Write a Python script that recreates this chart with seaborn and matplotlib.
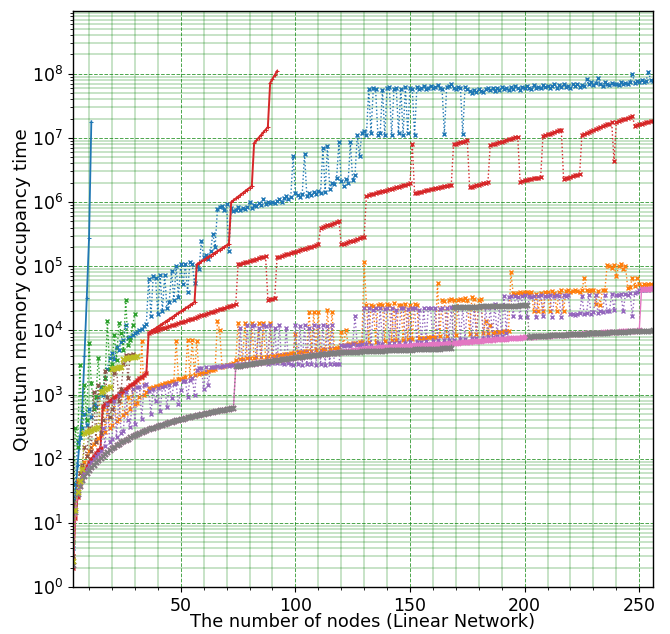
import numpy as np
import matplotlib
matplotlib.use("Agg")
import matplotlib.pyplot as plt
from matplotlib.ticker import MultipleLocator, LogLocator
import seaborn as sns

# ---------------- data ----------------
# x = number of nodes; each series starts at the given node and runs consecutively
blue_solid_start = 3
blue_solid = [5, 25, 80, 200, 550, 4000, 32000, 280000, 18000000]

blue_dot_start = 3
blue_dot = [4, 40, 180, 220, 300, 500, 340, 600, 450, 700, 650, 900, 1300, 1000, 1800, 2500,
            3700, 4500, 3600, 5600, 5000, 6500, 7200, 12000, 7500, 8000, 8500, 9000, 9500, 10000,
            10500, 11500, 12500,
            63000, 17000, 70000, 66000, 18000, 72000, 20000, 74000, 22000, 28000, 85000, 30000,
            100000, 33000, 107000, 52000, 107000, 40000, 115000, 110000, 55000,
            100000, 90000, 250000, 140000, 150000, 130000, 170000, 320000, 200000, 780000, 850000,
            870000, 750000, 920000, 170000,
            800000, 720000, 760000, 830000, 740000, 800000, 770000, 850000, 1000000, 820000, 900000,
            870000, 950000, 900000, 1100000, 930000, 1000000, 960000, 1000000, 980000, 1050000,
            1100000, 1000000, 1150000, 1250000, 1100000, 1200000,
            5300000, 1400000, 1300000, 1200000, 1350000, 5600000, 1250000, 1400000, 1300000, 1450000,
            1350000, 1500000, 1400000, 7000000, 1450000, 7500000, 1600000, 2000000, 1900000, 2400000,
            8500000, 2100000, 1800000, 2300000, 2000000, 8500000, 2200000, 2600000, 11000000,
            5300000, 12000000, 13000000,
            11000000, 58000000, 12000000, 60000000, 57000000, 11000000, 12000000, 56000000, 11000000,
            59000000, 62000000, 11000000, 57000000, 60000000, 12000000, 58000000, 11000000, 63000000,
            12000000, 60000000, 58000000, 11000000, 62000000, 57000000, 60000000, 64000000, 58000000,
            61000000, 65000000, 59000000, 62000000, 66000000, 60000000, 57000000, 11500000, 62000000,
            65000000, 70000000, 60000000, 58000000, 63000000, 60000000, 11500000, 62000000, 58000000,
            5.3e7, 5.0e7, 5.6e7, 5.2e7, 5.8e7, 5.4e7, 5.1e7, 5.7e7, 6.0e7, 5.5e7, 5.9e7, 5.3e7, 6.1e7,
            5.6e7, 6.3e7, 5.8e7, 6.0e7, 5.5e7, 6.2e7, 5.7e7, 6.4e7, 6.0e7, 5.6e7, 6.3e7, 5.9e7, 6.5e7,
            6.1e7, 5.8e7, 6.6e7, 6.0e7, 6.3e7, 5.9e7, 6.7e7, 6.2e7, 6.5e7, 6.0e7, 6.4e7, 6.8e7, 6.1e7,
            6.6e7, 6.3e7, 6.9e7, 6.2e7, 6.5e7, 6.1e7, 6.8e7, 6.4e7, 7.0e7, 6.3e7, 6.6e7, 6.5e7, 8.2e7,
            6.8e7, 7.4e7, 6.6e7, 7.2e7, 8.5e7, 7.0e7, 6.5e7, 7.3e7, 6.9e7, 6.6e7, 7.1e7, 6.8e7, 7.0e7,
            6.7e7, 7.3e7, 6.9e7, 7.1e7, 7.0e7, 7.4e7, 1.0e8, 7.2e7, 7.6e7, 7.3e7, 8.0e7, 7.5e7, 7.8e7,
            1.07e8, 8.0e7, 7.8e7]

orange_start = 3
orange = [3, 20, 45, 60, 75, 90, 110, 130, 150, 170, 190, 210, 230, 600, 260, 700, 300, 330, 900,
          380, 420, 1000, 480, 520, 900, 600, 1200, 700, 750, 900, 6800, 1000, 1100,
          1250, 1280, 1310, 1350, 1380, 1420, 1450, 1490, 1520, 1560, 1600, 1640, 6800, 1720, 1760,
          1800, 1850, 7000, 1950, 7000, 2000, 6800, 2100, 2150, 2200, 2250, 2300, 2400, 2450, 2500,
          14000, 10000, 2700, 2750, 2850, 2900, 3000, 3100,
          3500, 13000, 3550, 3600, 13000, 3650, 3700, 13000, 3750, 3800, 13000, 3850, 13000, 3900,
          3950, 13000, 4000, 4050, 4100, 4150, 4200, 4250, 4300, 4350, 4400, 4450, 8700, 4550, 4600,
          4650, 4700, 4750, 19000, 4850, 19000, 4950, 19000, 5000, 5050, 5100, 21000, 5200, 19000,
          5300, 5400, 5500,
          9500, 6000, 10000, 6200, 6100, 6300, 6400, 6200, 6500, 6600, 115000, 25000, 6500, 25000,
          24000, 6700, 25000, 26000, 25000, 6800, 26000, 25000, 7000, 27000, 7000, 25000, 25000,
          7200, 26000, 7300, 25000, 7400, 26000, 25000, 7500, 7600, 7600, 7700, 7800, 7900, 7900,
          8000, 54000, 8100, 30000, 29000, 8300, 30000, 31000, 30000, 8500, 30000, 31000, 30000,
          32000, 30000, 8700, 33000, 31000, 8800, 30000, 31000, 9000, 14000, 9100, 12000, 9200,
          9300, 9400, 9500,
          9600, 9700, 9800, 9900, 80000, 38000, 37000, 38000, 39000, 38000, 39000, 40000, 38000,
          39000, 20000, 37000, 20000, 38000, 20000, 39000, 40000, 20000, 41000, 38000, 20000, 40000,
          42000, 20000, 41000, 42000, 40000, 41000, 43000, 41000, 40000, 42000, 66000, 42000, 41000,
          43000, 42000, 26000, 41000, 25000, 43000, 42000, 105000, 100000, 95000, 105000, 70000,
          100000, 110000, 90000, 100000, 45000, 48000, 66000, 50000, 66000, 52000, 50000, 52000,
          51000, 53000, 52000, 51000]

green_start = 3
green = [5, 300, 150, 2900, 250, 1400, 400, 6300, 1500, 600, 900, 3700, 1100, 1300, 1800, 14000,
         2500, 3000, 8500, 3500, 13000, 9000, 5000, 30000, 6000, 7000, 12000, 18000]

red_solid_start = 3
red_solid = [2, 12, 25, 38, 50, 62, 75, 88, 100, 110, 122, 135, 148,
             660, 702, 747, 795, 846, 900, 958, 1019, 1084, 1154, 1228, 1306, 1390, 1479, 1574,
             1675, 1782, 1896, 2018, 2147,
             9100, 9620, 10170, 10750, 11360, 12010, 12690, 13410, 14180, 14990, 15840, 16740,
             17700, 18710, 19770, 20900, 22090, 23350, 24680, 26090, 27580,
             107000, 112800, 118900, 125300, 132100, 139200, 146700, 154600, 163000, 171800,
             181000, 190800, 201100, 212000, 223400,
             1.00e6, 1.066e6, 1.137e6, 1.212e6, 1.292e6, 1.377e6, 1.468e6, 1.565e6, 1.668e6, 1.778e6,
             8.3e6, 9.14e6, 1.006e7, 1.108e7, 1.22e7, 1.343e7, 1.479e7,
             7.2e7, 8.3e7, 9.5e7, 1.1e8]

red_dot_start = 3
red_dot = [2, 12, 25, 38, 50, 62, 75, 88, 100, 110, 122, 135, 148,
           660, 702, 747, 795, 846, 900, 958, 1019, 1084, 1154, 1228, 1306, 1390, 1479, 1574,
           1675, 1782, 1896, 2018, 2147,
           9100, 9350, 9610, 9880, 10150, 10430, 10720, 11020, 11320, 11640, 11960, 12290, 12630,
           12980, 13340, 13710, 14090, 14480, 14880, 15290, 15720, 16150, 16600, 17060, 17530,
           18020, 18520, 19030, 19560, 20100, 20650, 21230, 21810, 22420, 23040, 23680, 24330,
           25000, 25700,
           107000, 109700, 112400, 115200, 118100, 121100, 124100, 127200, 130400, 133600, 137000,
           140400, 143900,
           30000, 30500, 31000, 31500,
           138000, 141600, 145200, 149000, 152900, 156800, 160900, 165100, 169300, 173700, 178200,
           182800, 187600, 192400, 197400, 202500, 207800, 213200, 218700,
           389000, 402700, 416800, 431400, 446500, 462100, 478300, 495000, 512400,
           219000, 225100, 231400, 237900, 244600, 251400, 258500, 265700, 273100, 280800, 288600,
           1.259e6, 1.288e6, 1.318e6, 1.349e6, 1.380e6, 1.412e6, 1.445e6, 1.479e6, 1.513e6, 1.549e6,
           1.585e6, 1.622e6, 1.660e6, 1.698e6, 1.738e6, 1.778e6, 1.820e6, 1.862e6, 1.905e6, 1.950e6,
           8.0e6,
           1.380e6, 1.406e6, 1.433e6, 1.460e6, 1.488e6, 1.517e6, 1.546e6, 1.575e6, 1.605e6, 1.636e6,
           1.667e6, 1.699e6, 1.731e6, 1.764e6, 1.798e6, 1.832e6, 1.862e6,
           7.94e6, 8.12e6, 8.31e6, 8.51e6, 8.71e6, 8.91e6, 9.12e6,
           1.70e6, 1.74e6, 1.78e6, 1.82e6, 1.86e6, 1.90e6, 1.95e6, 1.99e6, 2.04e6,
           7.76e6, 7.95e6, 8.15e6, 8.36e6, 8.57e6, 8.78e6, 9.00e6, 9.23e6, 9.46e6, 9.70e6, 9.94e6,
           1.019e7, 1.045e7,
           2.09e6, 2.13e6, 2.17e6, 2.21e6, 2.25e6, 2.29e6, 2.33e6, 2.37e6, 2.41e6, 2.45e6,
           1.07e7, 1.10e7, 1.13e7, 1.16e7, 1.19e7, 1.23e7, 1.27e7, 1.31e7, 1.35e7,
           2.29e6, 2.35e6, 2.41e6, 2.48e6, 2.54e6, 2.61e6, 2.68e6, 2.75e6,
           1.12e7, 1.16e7, 1.20e7, 1.24e7, 1.28e7, 1.32e7, 1.37e7, 1.41e7, 1.46e7, 1.51e7, 1.56e7,
           1.62e7, 1.67e7, 1.74e7,
           4.3e6,
           1.78e7, 1.83e7, 1.88e7, 1.94e7, 2.00e7, 2.06e7, 2.12e7, 2.19e7,
           1.55e7, 1.58e7, 1.62e7, 1.66e7, 1.70e7, 1.74e7, 1.78e7, 1.82e7, 1.86e7]

purple_start = 3
purple = [2.5, 17, 32, 45, 55, 62, 70, 80, 90, 100, 110, 120, 130,
          300, 160, 700, 180, 200, 800, 220, 1000, 250, 270, 1100, 400, 310, 1200, 350, 1300, 1300,
          420, 1400, 1450,
          1150, 500, 1200, 780, 1250, 550, 1300, 1350, 650, 1400, 870, 1450, 1500, 700, 1180, 1600,
          1650, 900, 1700, 1800, 1000, 2400, 2570, 2600, 1200, 2650, 1420, 2700, 2650, 2700, 2750,
          2700, 2800, 2750, 2850, 2800, 2900, 2850,
          2900, 3000, 11000, 2950, 3000, 12000, 3050, 11500, 12000, 3000, 11000, 3100, 12000, 11500,
          3000, 12000, 3100, 11000, 3050, 12000, 3100, 3000, 11000, 3100, 3000, 2900, 12000, 2950,
          11500, 2900, 12000, 3000, 11000, 2950, 12000, 2900, 11500, 3000, 12000, 2900, 11500, 2950,
          12000, 3000, 2950, 3000,
          6000, 5800, 5900, 6000, 5800, 6100, 16600, 6000, 5900, 6100, 22000, 6200, 22000, 6000,
          21000, 22000, 6300, 22000, 6200, 21500, 22000, 6400, 22000, 6300, 21000, 6500, 22000,
          22000, 6400, 21500, 6600, 22000, 22000, 6500, 21000, 6700, 22000, 6800, 22500, 22000,
          6900, 22000, 7000, 21500, 22000, 7100, 22500, 7000, 23000, 7200, 23000, 23500, 7300,
          23000, 7400, 23500, 23000, 7500, 23500, 7600, 23000, 24000, 7700, 23500, 7800, 24000,
          8000, 26000, 8200, 24000,
          8300, 34000, 9000, 33000, 34000, 17000, 34000, 33000, 16000, 34000, 35000, 16000, 34000,
          33000, 34000, 16000, 34000, 35000, 17000, 34000, 34000, 35000, 16000, 34000, 35000, 34000,
          16000, 35000, 34000, 35000, 18000, 18000, 17500, 18000, 18500, 34000, 18000, 18500, 35000,
          18000, 19000, 35000, 18500, 20000, 19500, 36000, 20000, 20000, 37000, 21000, 36000, 36000,
          37000, 20000, 37000, 36000, 38000, 17000, 38000, 40000, 42000, 43000, 42000, 44000, 43000,
          44000, 45000]

brown_start = 3
brown = [3, 20, 40, 60, 80, 150, 110, 300, 130, 1100, 180, 1400, 250, 400, 2300, 930, 450, 600,
         2200, 2600, 800, 1200, 3000, 4200, 1800, 4200, 4300]

gray_start = 3
gray = [2.2, 15, 28, 38, 46, 53, 60, 66, 73, 80, 88, 96, 104, 112, 120, 128, 136, 145, 153, 162,
        170, 179, 188, 197, 206, 215, 224, 233, 242, 251, 260, 269, 278, 287, 296, 305, 314, 323,
        332, 341, 350, 359, 368, 377, 386, 395, 404, 413, 422, 431, 440, 449, 458, 467, 476, 485,
        494, 503, 512, 521, 530, 539, 548, 557, 566, 575, 584, 593, 602, 611, 625,
        2750, 2790, 2830, 2870, 2910, 2950, 2990, 3030, 3070, 3110, 3150, 3190, 3230, 3270, 3310,
        3350, 3390, 3430, 3470, 3510, 3550, 3590, 3630, 3670, 3710, 3750, 3790, 3830, 3870, 3910,
        3950, 3990, 4030, 4070, 4110, 4150, 4190, 4230, 4270, 4310, 4350, 4390, 4430, 4470, 4510,
        4550,
        4560, 4575, 4590, 4605, 4620, 4635, 4650, 4665, 4680, 4695, 4710, 4725, 4740, 4755, 4770,
        4785, 4800, 4815, 4830, 4845, 4860, 4875, 4890, 4905, 4920, 4935, 4950, 4965, 4980, 4995,
        5010, 5025, 5040, 5055, 5070, 5085, 5100, 5115, 5130, 5145, 5160, 5175, 5190, 5205, 5220,
        5235, 5250, 5265, 5280,
        22800, 22900, 23000, 23000, 23100, 23200, 23200, 23300, 23400, 23400, 23500, 23500, 23600,
        23600, 23700, 23800, 23800, 23900, 23900, 24000, 24000, 24100, 24100, 24200, 24200, 24300,
        24300, 24400, 24400, 24500, 24500, 24600, 24600,
        8000, 8040, 8080, 8110, 8150, 8190, 8220, 8260, 8300, 8330, 8370, 8410, 8440, 8480, 8520,
        8550, 8590, 8630, 8660, 8700, 8740, 8770, 8810, 8850, 8880, 8920, 8960, 8990, 9030, 9070,
        9100, 9140, 9180, 9210, 9250, 9290, 9320, 9360, 9400, 9430, 9470, 9510, 9540, 9580, 9620,
        9650, 9690, 9730, 9760, 9800, 9840, 9870, 9910, 9950, 9980]

# pink follows the gray curve up to node 118, then its own values from node 119
pink_start = 3
pink_own = [4550, 4600, 4660, 4720, 4780, 4840, 4900, 4960, 5020, 5080, 5140, 5200, 5250,
            5280, 5310, 5340, 5360, 5390, 5420, 5450, 5480, 5500, 5530, 5560, 5590, 5620, 5640,
            5670, 5700, 5730, 5760, 5780, 5810, 5840, 5870, 5900, 5920, 5950, 5980, 6010, 6040,
            6060, 6090, 6120, 6150, 6180, 6200, 6230, 6260, 6290,
            6350, 6400, 6450, 6500, 6540, 6590, 6640, 6690, 6740, 6780, 6830, 6880, 6930, 6980,
            7020, 7070, 7120, 7170, 7220, 7260, 7310, 7360, 7410, 7460, 7500, 7550, 7600, 7650,
            7700, 7740, 7790, 7840, 7890,
            7930, 7970, 8010, 8060, 8100, 8140, 8180, 8230, 8270, 8310, 8350, 8400, 8440, 8480,
            8520, 8570, 8610, 8650, 8690, 8740, 8780, 8820, 8860, 8910, 8950, 8990, 9030, 9080,
            9120, 9160, 9200, 9250, 9290, 9330, 9370, 9420, 9460, 9500, 9540, 9590, 9630, 9670,
            9710, 9760, 9800, 9840, 9880, 9930, 9970,
            44000, 44200, 44400, 44600, 44800, 45000]
pink = gray[:116] + pink_own

olive_start = 3
olive = [2.5, 16, 30, 45, 70, 250, 260, 270, 280, 290, 300, 310, 1100, 1150, 1200, 1250, 1300,
         2500, 2550, 2600, 2650, 2700, 3600, 3700, 3750, 3800, 3850, 3900, 3950]

x_label = "The number of nodes (Linear Network)"
y_label = "Quantum memory occupancy time"

# ---------------- drawing ----------------
plt.rcParams["font.family"] = ["DejaVu Sans"]
plt.rcParams["font.size"] = 12.5

fig = plt.figure(figsize=(6.7, 6.34), dpi=100)
ax = fig.add_axes([73 / 670, 1 - 587 / 634, 580 / 670, 576 / 634])


def draw(vals, start, color, **kw):
    xs = np.arange(start, start + len(vals))
    sns.lineplot(x=xs, y=np.asarray(vals, dtype=float), ax=ax, errorbar=None,
                 estimator=None, sort=False, color=color,
                 markeredgecolor=color, markerfacecolor=color, **kw)


dot = dict(linestyle=":", linewidth=1.0, marker="x", markersize=3.5, markeredgewidth=1.0)
heavy = dict(linestyle=":", linewidth=1.0, marker="x", markersize=3.6, markeredgewidth=1.4)

draw(blue_solid, blue_solid_start, "#1f77b4", linestyle="-", linewidth=1.3,
     marker="+", markersize=3)
draw(blue_dot, blue_dot_start, "#1f77b4", **dot)
draw(orange, orange_start, "#ff7f0e", **dot)
draw(green, green_start, "#2ca02c", **dot)
draw(red_dot, red_dot_start, "#d62728", **dot)
draw(red_solid, red_solid_start, "#d62728", linestyle="-", linewidth=1.4,
     marker="+", markersize=3)
draw(purple, purple_start, "#9467bd", **dot)
draw(brown, brown_start, "#8c564b", **dot)
draw(pink, pink_start, "#e377c2", linestyle="-", linewidth=1.0,
     marker="x", markersize=3.6, markeredgewidth=1.4)
draw(gray, gray_start, "#7f7f7f", **heavy)
draw(olive, olive_start, "#bcbd22", **heavy)

ax.set_yscale("log")
ax.set_ylim(1, 9.5e8)
ax.set_xlim(3, 256)
ax.xaxis.set_major_locator(MultipleLocator(50))
ax.xaxis.set_minor_locator(MultipleLocator(10))
ax.yaxis.set_major_locator(LogLocator(base=10, numticks=20))
ax.yaxis.set_minor_locator(LogLocator(base=10, subs=np.arange(2, 10), numticks=200))

ax.set_axisbelow(True)
ax.grid(which="major", color="green", linestyle="--", linewidth=0.7, alpha=0.7)
ax.grid(which="minor", color="green", linestyle="-", linewidth=1.1, alpha=0.28)

ax.tick_params(axis="both", which="major", labelsize=12.5)
ax.set_xlabel(x_label, fontsize=12.8, labelpad=-1)
ax.set_ylabel(y_label, fontsize=13.3)
ax.yaxis.set_label_coords(-0.072, 0.516)
for s in ax.spines.values():
    s.set_color("black")
    s.set_linewidth(1.0)

fig.savefig("out.png", dpi=100)
